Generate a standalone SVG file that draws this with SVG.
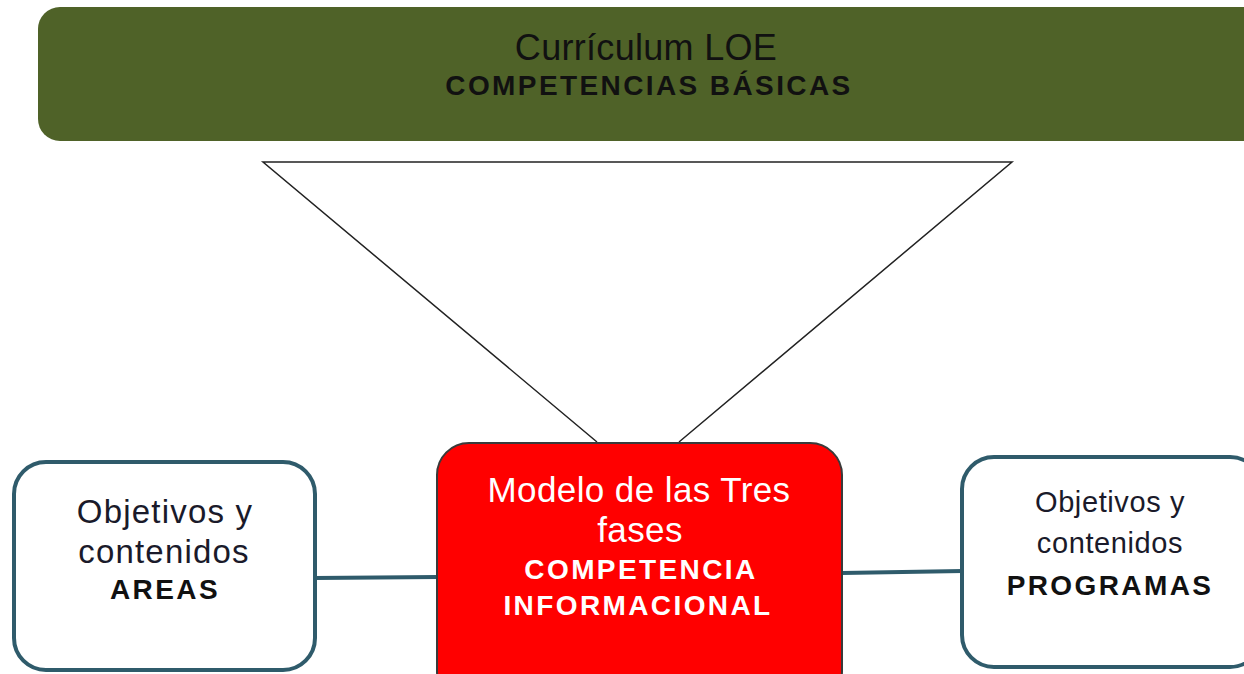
<svg xmlns="http://www.w3.org/2000/svg" width="1244" height="674" viewBox="0 0 1244 674">
<style>
.t{font-family:"Liberation Sans",Arial,sans-serif;text-anchor:middle}
.b{font-weight:bold;font-size:28px;letter-spacing:2.4px}
.side{fill:#fff;stroke:#2f5b6b;stroke-width:4}
.conn{stroke:#2f5b6b;stroke-width:4;fill:none}
</style>
<rect width="1244" height="674" fill="#fff"/>
<g id="header">
<rect x="38" y="7" width="1240" height="134" rx="22" fill="#4f6228"/>
<text class="t" x="646" y="60" font-size="36" letter-spacing="0.3" fill="#111">Currículum LOE</text>
<text class="t b" x="649" y="95" fill="#111">COMPETENCIAS BÁSICAS</text>
</g>
<g id="connectors">
<polyline points="597,442 263,162 1012,162 679,442" fill="none" stroke="#222" stroke-width="1.5"/>
<line class="conn" x1="315" y1="578" x2="438" y2="577"/>
<line class="conn" x1="842" y1="573" x2="963" y2="571"/>
</g>
<g id="center">
<rect x="437" y="443" width="405" height="260" rx="32" fill="#ff0000" stroke="#3a3a3a" stroke-width="2"/>
<text class="t" x="639" y="502" font-size="35" letter-spacing="0.4" fill="#fff">Modelo de las Tres</text>
<text class="t" x="640" y="542" font-size="35" letter-spacing="0.4" fill="#fff">fases</text>
<text class="t b" x="641" y="579" fill="#fff">COMPETENCIA</text>
<text class="t b" x="638" y="615" fill="#fff">INFORMACIONAL</text>
</g>
<g id="left">
<rect class="side" x="14" y="462" width="301" height="208" rx="32"/>
<text class="t" x="165" y="523" font-size="33" letter-spacing="1.2" fill="#1a1a2a">Objetivos y</text>
<text class="t" x="164" y="563" font-size="33" letter-spacing="1.2" fill="#1a1a2a">contenidos</text>
<text class="t b" x="165" y="599" fill="#111">AREAS</text>
</g>
<g id="right">
<rect class="side" x="962" y="457" width="300" height="210" rx="32"/>
<text class="t" x="1110" y="512" font-size="29" letter-spacing="0.6" fill="#1a1a2a">Objetivos y</text>
<text class="t" x="1110" y="553" font-size="29" letter-spacing="0.6" fill="#1a1a2a">contenidos</text>
<text class="t b" x="1110" y="595" fill="#111">PROGRAMAS</text>
</g>
</svg>
